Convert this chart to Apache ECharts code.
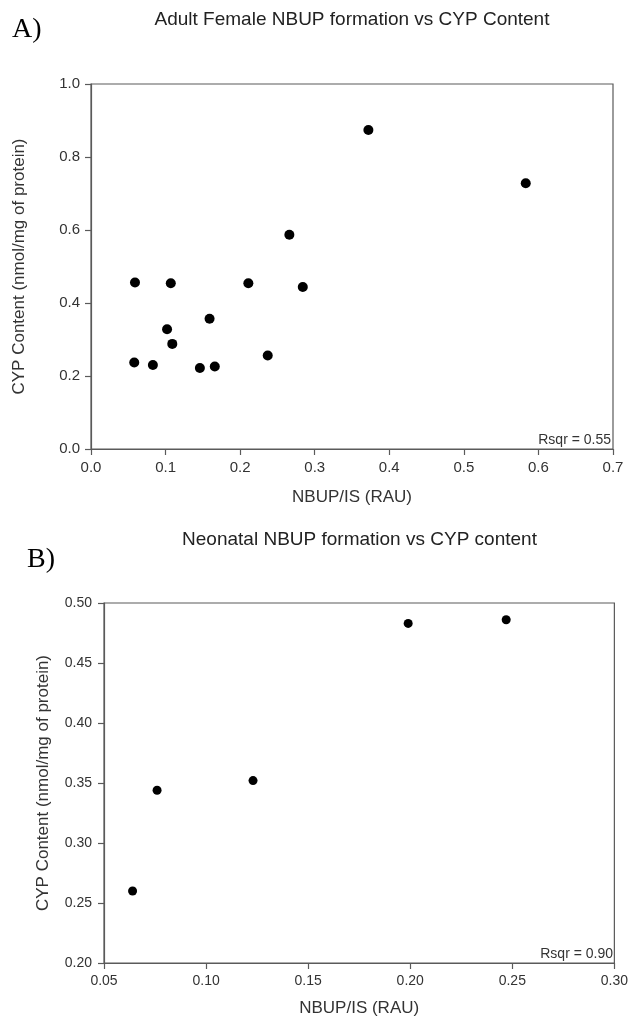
<!DOCTYPE html>
<html>
<head>
<meta charset="utf-8">
<title>NBUP formation vs CYP content</title>
<script src="https://cdn.jsdelivr.net/npm/echarts@6/dist/echarts.min.js"></script>
<style>
  html, body { margin: 0; padding: 0; background: #fff; }
  #chart { width: 631px; height: 1023px; }
</style>
</head>
<body>
<div id="chart"></div>
<script>
// Panel A: adult female microsomes
const adultNbup = [0.059, 0.107, 0.211, 0.266, 0.284, 0.159, 0.102, 0.109, 0.058, 0.083, 0.146, 0.166, 0.237, 0.372, 0.583];
const adultCyp  = [0.456, 0.454, 0.454, 0.587, 0.444, 0.357, 0.328, 0.288, 0.237, 0.230, 0.222, 0.226, 0.256, 0.874, 0.728];
const adultRsqr = '0.55';

// Panel B: neonatal microsomes
const neoNbup = [0.064, 0.076, 0.123, 0.199, 0.247];
const neoCyp  = [0.260, 0.344, 0.352, 0.483, 0.486];
const neoRsqr = '0.90';

const titleA = 'Adult Female NBUP formation vs CYP Content';
const titleB = 'Neonatal NBUP formation vs CYP content';
const xName = 'NBUP/IS (RAU)';
const yName = 'CYP Content (nmol/mg of protein)';

const SANS = '"Liberation Sans", Arial, Helvetica, sans-serif';
const SERIF = '"Liberation Serif", "Times New Roman", serif';
const AXIS_COLOR = '#5a5a5a';
const TEXT_COLOR = '#333';

const pairs = (xs, ys) => xs.map((x, i) => [x, ys[i]]);

function valueAxis(gridIndex, min, max, interval, digits, fontSize, labelMargin, name, nameGap) {
  return {
    type: 'value', gridIndex, min, max, interval,
    name, nameLocation: 'middle', nameGap,
    nameTextStyle: { fontFamily: SANS, fontSize: 17, color: TEXT_COLOR },
    axisLine: { show: true, lineStyle: { color: AXIS_COLOR, width: 1.2 } },
    axisTick: { show: true, inside: false, length: 6, lineStyle: { color: AXIS_COLOR, width: 1.2 } },
    axisLabel: {
      fontFamily: SANS, fontSize, color: TEXT_COLOR, margin: labelMargin,
      formatter: v => v.toFixed(digits)
    },
    splitLine: { show: false }
  };
}

const chart = echarts.init(document.getElementById('chart'), null, { renderer: 'canvas' });

const gridA = { left: 91, top: 84, width: 522, height: 365 };
const gridB = { left: 104, top: 603, width: 511, height: 360 };

chart.setOption({
  animation: false,
  backgroundColor: '#fff',
  grid: [
    Object.assign({ show: true, borderColor: AXIS_COLOR, borderWidth: 1.2, containLabel: false }, gridA),
    Object.assign({ show: true, borderColor: AXIS_COLOR, borderWidth: 1.2, containLabel: false }, gridB)
  ],
  xAxis: [
    valueAxis(0, 0, 0.7, 0.1, 1, 15, 11, xName, 40),
    valueAxis(1, 0.05, 0.30, 0.05, 2, 14, 11, xName, 37)
  ],
  yAxis: [
    valueAxis(0, 0, 1.0, 0.2, 1, 15, 11, yName, 63),
    valueAxis(1, 0.20, 0.50, 0.05, 2, 14, 12, yName, 52)
  ],
  series: [
    {
      type: 'scatter', xAxisIndex: 0, yAxisIndex: 0,
      data: pairs(adultNbup, adultCyp),
      symbol: 'circle', symbolSize: 10,
      itemStyle: { color: '#000', opacity: 1 }
    },
    {
      type: 'scatter', xAxisIndex: 1, yAxisIndex: 1,
      data: pairs(neoNbup, neoCyp),
      symbol: 'circle', symbolSize: 9,
      itemStyle: { color: '#000', opacity: 1 }
    }
  ],
  graphic: [
    { type: 'text', left: 12, top: 16, style: { text: 'A)', font: '28px ' + SERIF, fill: '#000' } },
    { type: 'text', left: 27, top: 546, style: { text: 'B)', font: '28px ' + SERIF, fill: '#000' } },
    {
      type: 'text', x: gridA.left + gridA.width / 2, y: 20,
      style: { text: titleA, font: '19px ' + SANS, fill: '#222', align: 'center', verticalAlign: 'middle' }
    },
    {
      type: 'text', x: gridB.left + gridB.width / 2, y: 540,
      style: { text: titleB, font: '19px ' + SANS, fill: '#222', align: 'center', verticalAlign: 'middle' }
    },
    {
      type: 'text', x: gridA.left + gridA.width - 2, y: gridA.top + gridA.height - 2,
      style: { text: 'Rsqr = ' + adultRsqr, font: '14px ' + SANS, fill: TEXT_COLOR, align: 'right', verticalAlign: 'bottom' }
    },
    {
      type: 'text', x: gridB.left + gridB.width - 2, y: gridB.top + gridB.height - 2,
      style: { text: 'Rsqr = ' + neoRsqr, font: '14px ' + SANS, fill: TEXT_COLOR, align: 'right', verticalAlign: 'bottom' }
    }
  ]
});
</script>
</body>
</html>
